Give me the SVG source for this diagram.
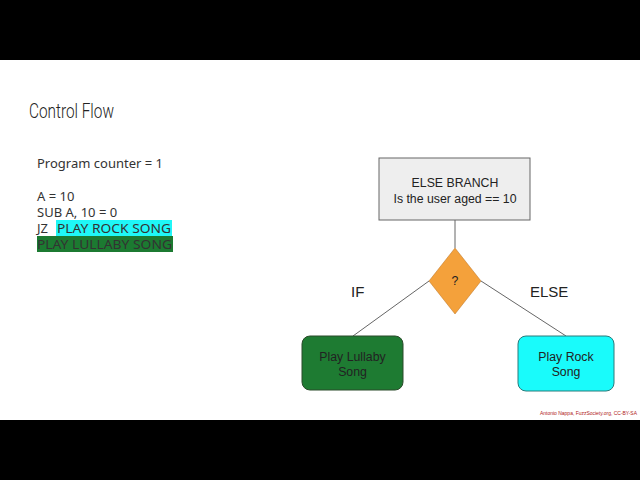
<svg xmlns="http://www.w3.org/2000/svg" width="640" height="480" viewBox="0 0 640 480">
<style>
.code{font-family:"Noto Sans",Lato,sans-serif;font-size:13px;fill:#333}
.node{font-family:"Liberation Sans",Arial,sans-serif;font-size:12.3px;fill:#222;text-anchor:middle}
.lbl{font-family:"Liberation Sans",Arial,sans-serif;font-size:15px;fill:#222}
.edge{stroke:#666;stroke-width:1;fill:none}
</style>
<rect x="0" y="0" width="640" height="480" fill="#000"/>
<rect x="0" y="60" width="640" height="360" fill="#fff"/>
<text x="29" y="118" font-family="Roboto,'Noto Sans',sans-serif" font-size="20" font-weight="300" fill="#222" textLength="85" lengthAdjust="spacingAndGlyphs">Control Flow</text>
<g id="code">
<rect x="56" y="220" width="116" height="16" fill="#1ff7f7"/>
<rect x="37" y="236" width="136" height="16" fill="#1c7a31"/>
<text class="code" x="37" y="168">Program counter = 1</text>
<text class="code" x="37" y="201">A = 10</text>
<text class="code" x="37" y="217">SUB A, 10 = 0</text>
<text class="code" x="37" y="233">JZ</text>
<text class="code" x="57" y="233" textLength="114" lengthAdjust="spacingAndGlyphs">PLAY ROCK SONG</text>
<text class="code" x="37" y="249" fill="#111" textLength="135" lengthAdjust="spacingAndGlyphs">PLAY LULLABY SONG</text>
</g>
<g id="connectors">
<line class="edge" x1="455" y1="220" x2="455" y2="248"/>
<line class="edge" x1="429" y1="281" x2="353" y2="336"/>
<line class="edge" x1="481" y1="281" x2="566" y2="336"/>
</g>
<g id="else-branch">
<rect x="379" y="158" width="151" height="62" fill="#eeeeee" stroke="#666"/>
<text class="node" x="455" y="187">ELSE BRANCH</text>
<text class="node" x="455" y="203">Is the user aged == 10</text>
</g>
<g id="decision">
<polygon points="455,248 481,281 455,314 429,281" fill="#f4a13b" stroke="#b87020" stroke-width="0.5"/>
<text class="node" x="455" y="285" font-size="10">?</text>
</g>
<g id="lullaby">
<rect x="302" y="336" width="101" height="54" rx="8" fill="#1e7b32" stroke="#2a4a2a"/>
<text class="node" x="352.5" y="361">Play Lullaby</text>
<text class="node" x="352.5" y="376">Song</text>
</g>
<g id="rock">
<rect x="518" y="336" width="96" height="55" rx="8" fill="#19fbfb" stroke="#2a7a7a"/>
<text class="node" x="566" y="361">Play Rock</text>
<text class="node" x="566" y="376">Song</text>
</g>
<text class="lbl" x="351" y="297">IF</text>
<text class="lbl" x="530" y="297">ELSE</text>
<text x="540" y="415" font-family="'Liberation Sans',Arial,sans-serif" font-size="5" fill="#b02020" textLength="97" lengthAdjust="spacingAndGlyphs">Antonio Nappa, FuzzSociety.org, CC-BY-SA</text>
</svg>
